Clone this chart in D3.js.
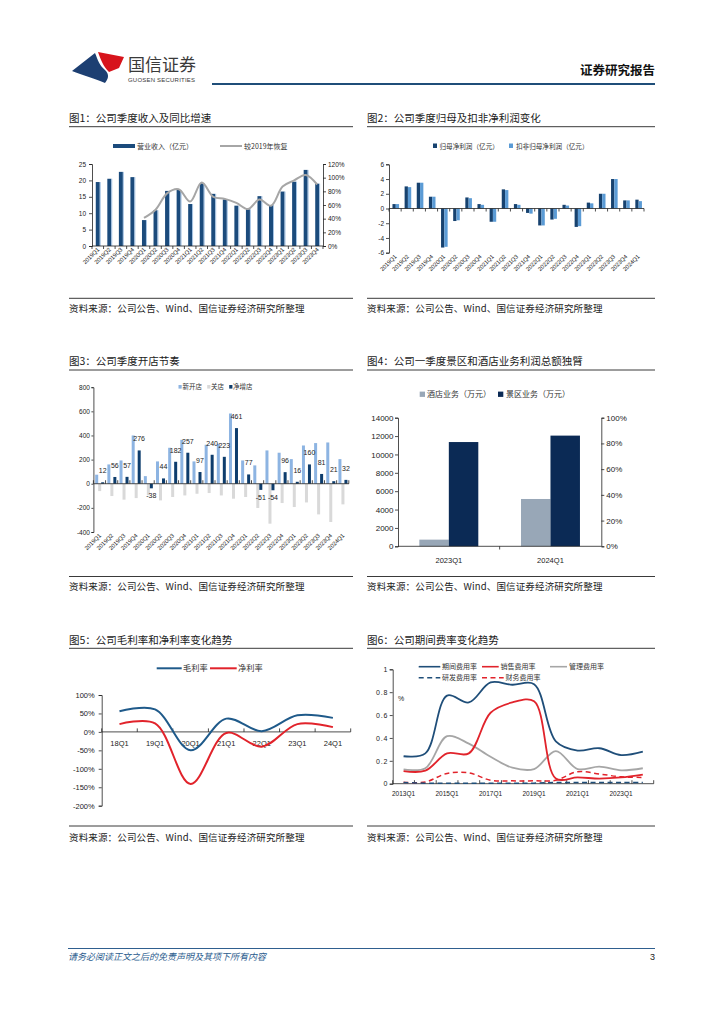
<!DOCTYPE html>
<html><head><meta charset="utf-8">
<script src="https://cdn.jsdelivr.net/npm/d3@7/dist/d3.min.js"></script>
<style>
body{margin:0;background:#fff;}
svg{display:block;}
</style></head><body>
<svg id="page" width="724" height="1024"></svg>
<script>
// ---------------- DATA ----------------
// Chart 1
const c1Quarters = ['2019Q1','2019Q2','2019Q3','2019Q4','2020Q1','2020Q2','2020Q3','2020Q4','2021Q1','2021Q2','2021Q3','2021Q4','2022Q1','2022Q2','2022Q3','2022Q4','2023Q1','2023Q2','2023Q3','2023Q4'];
const c1Revenue = [19.5,20.5,22.6,21.0,7.9,10.9,16.8,17.1,12.8,19.1,15.9,14.2,12.3,11.2,15.2,12.5,16.6,19.6,23.2,19.0];
const c1Recovery = [null,null,null,null,41,53,77,83,65,93,72,69,63,54,68,59,87,96,104,90];
const c1LeftTicks = [0,5,10,15,20,25];
const c1RightTicks = [0,20,40,60,80,100,120];
// Chart 2
const c2Quarters = ['2019Q1','2019Q2','2019Q3','2019Q4','2020Q1','2020Q2','2020Q3','2020Q4','2021Q1','2021Q2','2021Q3','2021Q4','2022Q1','2022Q2','2022Q3','2022Q4','2023Q1','2023Q2','2023Q3','2023Q4','2024Q1'];
const c2NetProfit = [0.6,3.0,3.5,1.6,-5.3,-1.7,1.5,0.6,-1.8,2.6,0.6,-0.6,-2.3,-1.5,0.5,-2.5,0.8,2.0,4.0,1.1,1.2];
const c2AdjProfit = [0.6,2.9,3.5,1.6,-5.2,-1.6,1.4,0.5,-1.8,2.5,0.5,-0.7,-2.3,-1.4,0.4,-2.4,0.7,2.0,4.0,1.1,1.0];
const c2Ticks = [-6,-4,-2,0,2,4,6];
// Chart 3
const c3Quarters = ['2019Q1','2019Q2','2019Q3','2019Q4','2020Q1','2020Q2','2020Q3','2020Q4','2021Q1','2021Q2','2021Q3','2021Q4','2022Q1','2022Q2','2022Q3','2022Q4','2023Q1','2023Q2','2023Q3','2023Q4','2024Q1'];
const c3New = [75,160,193,400,63,185,298,364,185,323,331,582,193,152,276,257,204,317,337,342,204];
const c3Closed = [-61,-102,-132,-119,-95,-138,-110,-97,-83,-77,-97,-124,-110,-201,-331,-160,-193,-155,-254,-317,-171];
const c3NetAdd = [12,56,57,276,-38,44,182,257,97,240,223,461,77,-51,-54,96,16,160,81,21,32];
const c3Ticks = [-400,-200,0,200,400,600,800];
// Chart 4
const c4Cats = ['2023Q1','2024Q1'];
const c4Hotel = [725,5150];
const c4Scenic = [11350,12050];
const c4LeftTicks = [0,2000,4000,6000,8000,10000,12000,14000];
const c4RightTicks = [0,20,40,60,80,100];
// Chart 5
const c5Cats = ['18Q1','19Q1','20Q1','21Q1','22Q1','23Q1','24Q1'];
const c5Gross = [56,61,-50,36,2,45,38];
const c5Net = [21,23,-141,-3,-40,21,13];
const c5Ticks = [-200,-150,-100,-50,0,50,100];
// Chart 6
const c6Cats = ['2013Q1','2014Q1','2015Q1','2016Q1','2017Q1','2018Q1','2019Q1','2020Q1','2021Q1','2022Q1','2023Q1','2024Q1'];
const c6Period = [0.24,0.265,0.77,0.71,0.885,0.865,0.87,0.37,0.29,0.31,0.25,0.28];
const c6Sales = [0.11,0.114,0.265,0.265,0.62,0.71,0.72,0.045,0.055,0.045,0.055,0.08];
const c6Admin = [0.125,0.135,0.415,0.35,0.235,0.14,0.128,0.285,0.128,0.15,0.117,0.135];
const c6RD = [0.01,0.005,0.005,0.005,0.005,0.005,0.005,0.01,0.01,0.01,0.01,0.01];
const c6Fin = [0.012,0.015,0.09,0.095,0.03,0.025,0.025,0.03,0.105,0.085,0.06,0.055];
const c6Ticks = [0,0.2,0.4,0.6,0.8,1];
const c6Labels = ['2013Q1','2015Q1','2017Q1','2019Q1','2021Q1','2023Q1'];

// ---------------- HELPERS ----------------
const CN = '"Noto Sans CJK SC","Noto Sans",sans-serif';
const NUM = '"Liberation Sans","DejaVu Sans",sans-serif';
const svg = d3.select('#page');
svg.append('rect').attr('width',724).attr('height',1024).attr('fill','#fff');

function txt(g,x,y,s,o={}){
  const t=g.append('text').attr('x',x).attr('y',y).text(s)
    .attr('font-size',o.size||8).attr('fill',o.fill||'#222')
    .attr('font-family',o.font||CN);
  if(o.anchor) t.attr('text-anchor',o.anchor);
  if(o.weight) t.attr('font-weight',o.weight);
  if(o.style) t.attr('font-style',o.style);
  if(o.ls) t.attr('letter-spacing',o.ls);
  return t;
}
function hline(g,x1,x2,y,color,w){
  g.append('line').attr('x1',x1).attr('x2',x2).attr('y1',y).attr('y2',y)
   .attr('stroke',color||'#333').attr('stroke-width',w||1);
}
function frame(x1,x2,tY,lY,title,sLY,sY){
  txt(svg,x1,tY,title,{size:10.5,fill:'#1a1a1a'});
  hline(svg,x1,x2,lY,'#3a3a3a',1);
  hline(svg,x1,x2,sLY,'#3a3a3a',1);
  txt(svg,x1,sY,'资料来源：公司公告、Wind、国信证券经济研究所整理',{size:9.5,fill:'#222',ls:0.15});
}
function styleAxis(a,size,ls){
  a.attr('font-family',NUM);
  a.selectAll('text').attr('font-size',size).attr('fill','#222').attr('letter-spacing',ls||0);
  a.selectAll('path.domain').attr('stroke','#222').attr('stroke-width',0.8);
  a.selectAll('.tick line').attr('stroke','#222').attr('stroke-width',0.8);
}
function boundaryTicks(g,x,y0,len,color){
  const bounds=x.domain().map(d=>x(d)-x.step()*x.paddingInner()/2).concat([x.range()[1]]);
  g.selectAll(null).data(bounds).join('line')
   .attr('x1',d=>d).attr('x2',d=>d).attr('y1',y0).attr('y2',y0+len)
   .attr('stroke',color||'#222').attr('stroke-width',0.8);
}
function rotLabels(g,x,cats,yTop,size,dx){
  g.selectAll(null).data(cats).join('text')
   .attr('transform',d=>`translate(${x(d)+x.bandwidth()/2+(dx||2)},${yTop}) rotate(-45)`)
   .attr('text-anchor','end').attr('font-size',size).attr('font-family',NUM)
   .attr('fill','#222').text(d=>d);
}

// ---------------- HEADER ----------------
{
  const g=svg.append('g');
  g.append('path').attr('d','M72,71 L95,53 C98,60 99,65 105,70 C110,75 108,79 105,83 C96,79 82,75 72,71 Z').attr('fill','#1D3F72');
  g.append('path').attr('d','M98,52 L124,57 L119,68 L109,72 C103,66 101,60 98,52 Z').attr('fill','#D7141C');
  txt(g,128,71,'国信证券',{size:17,fill:'#3a3a3a'});
  txt(g,128,81.5,'GUOSEN SECURITIES',{size:6,fill:'#3a3a3a',font:NUM}).attr('textLength',67);
  txt(g,655,75,'证券研究报告',{size:12.5,weight:'bold',fill:'#111',anchor:'end'});
  hline(g,212,655,84,'#1F4E79',2);
}

// ---------------- FRAMES ----------------
frame(69,353,122,126.7,'图1：公司季度收入及同比增速',298.3,312);
frame(367,655,122,126.7,'图2：公司季度归母及扣非净利润变化',298.3,312);
frame(69,353,365,370,'图3：公司季度开店节奏',576.5,590);
frame(367,655,365,370,'图4：公司一季度景区和酒店业务利润总额独臂',576.5,590);
frame(69,353,644,648.3,'图5：公司毛利率和净利率变化趋势',826,841);
frame(367,655,644,648.3,'图6：公司期间费率变化趋势',826,841);

// ---------------- CHART 1 ----------------
{
  const g=svg.append('g');
  const rows=c1Quarters.map((q,i)=>({q,v:c1Revenue[i],r:c1Recovery[i]}));
  const x=d3.scaleBand().domain(c1Quarters).range([92,323]);
  const y=d3.scaleLinear().domain([0,25]).range([246,164]);
  const yr=d3.scaleLinear().domain([0,120]).range([246,164]);
  const bw=4;
  g.selectAll(null).data(rows).join('rect')
   .attr('x',d=>x(d.q)+x.bandwidth()/2-bw/2).attr('y',d=>y(d.v))
   .attr('width',bw).attr('height',d=>y(0)-y(d.v)).attr('fill','#1B4B7C');
  g.selectAll(null).data(rows).join('rect')
   .attr('x',d=>x(d.q)+x.bandwidth()/2+bw/2).attr('y',d=>y(d.v))
   .attr('width',0.9).attr('height',d=>y(0)-y(d.v)).attr('fill','#9CBDE0');
  const line=d3.line().defined(d=>d.r!=null).x(d=>x(d.q)+x.bandwidth()/2).y(d=>yr(d.r)).curve(d3.curveCatmullRom);
  g.append('path').datum(rows).attr('d',line).attr('fill','none').attr('stroke','#A6A6A6').attr('stroke-width',2);
  const al=g.append('g').attr('transform','translate(92,0)').call(d3.axisLeft(y).tickValues(c1LeftTicks).tickSize(3).tickPadding(3).tickFormat(d=>String(d)));
  styleAxis(al,6.5);
  const ar=g.append('g').attr('transform','translate(323,0)').call(d3.axisRight(yr).tickValues(c1RightTicks).tickSize(3).tickPadding(2).tickFormat(d=>d+'%'));
  styleAxis(ar,6.5);
  hline(g,92,323,246,'#222',0.8);
  boundaryTicks(g,x,246,3);
  rotLabels(g,x,c1Quarters,250,5.8,2);
  // legend
  g.append('rect').attr('x',113).attr('y',144).attr('width',22).attr('height',4).attr('fill','#1B4B7C');
  txt(g,137,148.5,'营业收入（亿元）',{size:7,fill:'#333'});
  hline(g,220,242,146,'#A6A6A6',2);
  txt(g,244,148.5,'较2019年恢复',{size:7,fill:'#333'});
}

// ---------------- CHART 2 ----------------
{
  const g=svg.append('g');
  const rows=c2Quarters.map((q,i)=>({q,a:c2NetProfit[i],b:c2AdjProfit[i]}));
  const x=d3.scaleBand().domain(c2Quarters).range([389,644]);
  const y=d3.scaleLinear().domain([-6,6]).range([252.7,164.3]);
  const bw=3.3;
  g.selectAll(null).data(rows).join('rect')
   .attr('x',d=>x(d.q)+x.bandwidth()/2-bw+0.7).attr('y',d=>y(Math.max(0,d.a)))
   .attr('width',bw).attr('height',d=>Math.abs(y(d.a)-y(0))).attr('fill','#17426F');
  g.selectAll(null).data(rows).join('rect')
   .attr('x',d=>x(d.q)+x.bandwidth()/2+0.7).attr('y',d=>y(Math.max(0,d.b)))
   .attr('width',bw).attr('height',d=>Math.abs(y(d.b)-y(0))).attr('fill','#5B9BD5');
  const al=g.append('g').attr('transform','translate(389,0)').call(d3.axisLeft(y).tickValues(c2Ticks).tickSize(3).tickPadding(2).tickFormat(d=>String(d)));
  styleAxis(al,6.5);
  hline(g,389,644,y(0),'#222',0.8);
  boundaryTicks(g,x,y(0),3);
  rotLabels(g,x,c2Quarters,257,5.8,2);
  g.append('rect').attr('x',433).attr('y',143.5).attr('width',4).attr('height',4.5).attr('fill','#17426F');
  txt(g,439.5,148.5,'归母净利润（亿元）',{size:6.6,fill:'#333'});
  g.append('rect').attr('x',509).attr('y',143.5).attr('width',4).attr('height',4.5).attr('fill','#5B9BD5');
  txt(g,516,148.5,'扣非归母净利润（亿元）',{size:6.6,fill:'#333'});
}

// ---------------- CHART 3 ----------------
{
  const g=svg.append('g');
  const rows=c3Quarters.map((q,i)=>({q,n:c3New[i],c:c3Closed[i],t:c3NetAdd[i]}));
  const x=d3.scaleBand().domain(c3Quarters).range([93.4,348.8]);
  const y=d3.scaleLinear().domain([-400,800]).range([532,387.2]);
  const sub=d3.scaleBand().domain(['n','c','t']).range([1.8,10.8]);
  const col={n:'#8DB4E2',c:'#D9D9D9',t:'#0E3D6D'};
  ['n','c','t'].forEach(k=>{
    g.selectAll(null).data(rows).join('rect')
     .attr('x',d=>x(d.q)+sub(k)).attr('y',d=>y(Math.max(0,d[k])))
     .attr('width',sub.bandwidth()).attr('height',d=>Math.abs(y(d[k])-y(0))).attr('fill',col[k]);
  });
  const al=g.append('g').attr('transform','translate(93.4,0)').call(d3.axisLeft(y).tickValues(c3Ticks).tickSize(2).tickPadding(1.5).tickFormat(d=>String(d)));
  styleAxis(al,6.5);
  hline(g,93.4,349,y(0),'#222',0.8);
  boundaryTicks(g,x,y(0),-3.5);
  rotLabels(g,x,c3Quarters,536,5.8,2);
  g.selectAll(null).data(rows).join('text')
   .attr('x',d=>x(d.q)+sub('t')+sub.bandwidth()/2)
   .attr('y',d=>d.t>=0?y(d.t)-9:y(d.t)+10)
   .attr('text-anchor','middle').attr('font-size',7).attr('font-family',NUM).attr('fill','#222')
   .text(d=>String(d.t));
  const lg=[['n','新开店',178.5,182.5],['c','关店',207.2,211],['t','净增店',229.2,233]];
  lg.forEach(([k,s,sx,tx])=>{
    g.append('rect').attr('x',sx).attr('y',385).attr('width',3.2).attr('height',3.6).attr('fill',col[k]);
    txt(g,tx,389.3,s,{size:6.5,fill:'#333'});
  });
}

// ---------------- CHART 4 ----------------
{
  const g=svg.append('g');
  const rows=c4Cats.map((c,i)=>({c,h:c4Hotel[i],s:c4Scenic[i]}));
  const x=d3.scaleBand().domain(c4Cats).range([398,601.3]).paddingInner(0.42).paddingOuter(0.21);
  const sub=d3.scaleBand().domain(['h','s']).range([0,x.bandwidth()]);
  const y=d3.scaleLinear().domain([0,14000]).range([546.3,417.7]);
  const yr=d3.scaleLinear().domain([0,100]).range([546.3,417.7]);
  const col={h:'#98A7B7',s:'#0B2A55'};
  ['h','s'].forEach(k=>{
    g.selectAll(null).data(rows).join('rect')
     .attr('x',d=>x(d.c)+sub(k)).attr('y',d=>y(d[k]))
     .attr('width',sub.bandwidth()).attr('height',d=>y(0)-y(d[k])).attr('fill',col[k]);
  });
  const al=g.append('g').attr('transform','translate(398,0)').call(d3.axisLeft(y).tickValues(c4LeftTicks).tickSize(3).tickPadding(1.5).tickFormat(d=>String(d)));
  styleAxis(al,8);
  const ar=g.append('g').attr('transform','translate(601.3,0)').call(d3.axisRight(yr).tickValues(c4RightTicks).tickSize(3).tickPadding(2).tickFormat(d=>d+'%'));
  styleAxis(ar,8);
  hline(g,398,601.3,546.3,'#222',0.8);
  g.append('line').attr('x1',(398+601.3)/2).attr('x2',(398+601.3)/2).attr('y1',546.3).attr('y2',549.5).attr('stroke','#222').attr('stroke-width',0.8);
  g.selectAll(null).data(c4Cats).join('text')
   .attr('x',d=>x(d)+x.bandwidth()/2).attr('y',563).attr('text-anchor','middle')
   .attr('font-size',7.5).attr('font-family',NUM).attr('fill','#222').text(d=>d);
  g.append('rect').attr('x',419.7).attr('y',391.6).attr('width',5.3).attr('height',5.3).attr('fill',col.h);
  txt(g,427,397.3,'酒店业务（万元）',{size:8,fill:'#333'});
  g.append('rect').attr('x',498).attr('y',391.6).attr('width',5.3).attr('height',5.3).attr('fill',col.s);
  txt(g,506,397.3,'景区业务（万元）',{size:8,fill:'#333'});
}

// ---------------- CHART 5 ----------------
{
  const g=svg.append('g');
  const rows=c5Cats.map((c,i)=>({c,a:c5Gross[i],b:c5Net[i]}));
  const x=d3.scaleBand().domain(c5Cats).range([101.7,350.7]);
  const y=d3.scaleLinear().domain([-200,100]).range([805.7,695]);
  const al=g.append('g').attr('transform','translate(101.7,0)').call(d3.axisLeft(y).tickValues(c5Ticks).tickSize(3).tickPadding(4).tickFormat(d=>d+'%'));
  styleAxis(al,7.5);
  hline(g,101.7,350.7,y(0),'#222',0.8);
  boundaryTicks(g,x,y(0),-3.5);
  g.selectAll(null).data(c5Cats).join('text')
   .attr('x',d=>x(d)+x.bandwidth()/2).attr('y',745.5).attr('text-anchor','middle')
   .attr('font-size',7.5).attr('font-family',NUM).attr('fill','#222').text(d=>d);
  const la=d3.line().x(d=>x(d.c)+x.bandwidth()/2).y(d=>y(d.a)).curve(d3.curveCatmullRom);
  const lb=d3.line().x(d=>x(d.c)+x.bandwidth()/2).y(d=>y(d.b)).curve(d3.curveCatmullRom);
  g.append('path').datum(rows).attr('d',la).attr('fill','none').attr('stroke','#1F5A8A').attr('stroke-width',2);
  g.append('path').datum(rows).attr('d',lb).attr('fill','none').attr('stroke','#E1232B').attr('stroke-width',2);
  hline(g,156.7,181.7,668.3,'#1F5A8A',2);
  txt(g,183,671.3,'毛利率',{size:8.2,fill:'#333'});
  hline(g,210,236.7,668.3,'#E1232B',2);
  txt(g,238,671.3,'净利率',{size:8.2,fill:'#333'});
}

// ---------------- CHART 6 ----------------
{
  const g=svg.append('g');
  const x=d3.scaleBand().domain(c6Cats).range([392.7,653.7]);
  const y=d3.scaleLinear().domain([0,1]).range([783.7,669.3]);
  const al=g.append('g').attr('transform','translate(392.7,0)').call(d3.axisLeft(y).tickValues(c6Ticks).tickSize(3).tickPadding(1.5).tickFormat(d=>String(d)));
  styleAxis(al,7,0.8);
  hline(g,392.7,653.7,y(0),'#222',0.8);
  boundaryTicks(g,x,y(0),-3.5);
  g.selectAll(null).data(c6Labels).join('text')
   .attr('x',d=>x(d)+x.bandwidth()/2).attr('y',796).attr('text-anchor','middle')
   .attr('font-size',6.5).attr('font-family',NUM).attr('fill','#222').text(d=>d);
  txt(g,398,701,'%',{size:7,fill:'#222',font:NUM});
  const series=[
    {v:c6Fin,color:'#E1232B',dash:'5,3.5',w:1.5},
    {v:c6RD,color:'#1F4E79',dash:'5,3.5',w:1.5},
    {v:c6Admin,color:'#A6A6A6',dash:null,w:1.8},
    {v:c6Sales,color:'#E1232B',dash:null,w:1.8},
    {v:c6Period,color:'#1F4E79',dash:null,w:1.8}
  ];
  series.forEach(s=>{
    const line=d3.line().x((d,i)=>x(c6Cats[i])+x.bandwidth()/2).y(d=>y(d)).curve(d3.curveCatmullRom);
    const p=g.append('path').datum(s.v).attr('d',line).attr('fill','none').attr('stroke',s.color).attr('stroke-width',s.w);
    if(s.dash) p.attr('stroke-dasharray',s.dash);
  });
  const leg=[
    [418.7,440.3,666.7,'#1F4E79',null,'期间费用率',442],
    [482,498.7,666.7,'#E1232B',null,'销售费用率',500.5],
    [550,567,666.7,'#A6A6A6',null,'管理费用率',569],
    [418.7,440.3,677.7,'#1F4E79','5,3.5','研发费用率',442],
    [482,503.7,677.7,'#E1232B','5,3.5','财务费用率',505.5]
  ];
  leg.forEach(([a,b,yy,c,d,s,tx])=>{
    const l=g.append('line').attr('x1',a).attr('x2',b).attr('y1',yy).attr('y2',yy).attr('stroke',c).attr('stroke-width',1.6);
    if(d) l.attr('stroke-dasharray',d);
    txt(g,tx,yy+2.5,s,{size:7,fill:'#333'});
  });
}

// ---------------- FOOTER ----------------
{
  const g=svg.append('g');
  hline(g,68,655,948.5,'#2F5F8F',1);
  txt(g,68,960,'请务必阅读正文之后的免责声明及其项下所有内容',{size:9,fill:'#2B5C8E',style:'italic'});
  txt(g,655,960,'3',{size:9,fill:'#222',anchor:'end',font:NUM});
}
</script>
</body></html>
